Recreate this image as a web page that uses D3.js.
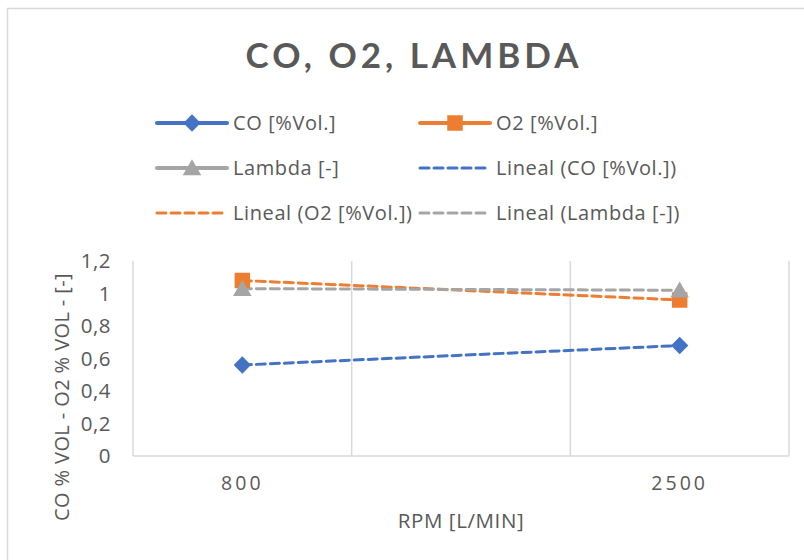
<!DOCTYPE html>
<html>
<head>
<meta charset="utf-8">
<script src="https://cdn.jsdelivr.net/npm/d3@7"></script>
<style>
  html, body { margin: 0; padding: 0; background: #fff; }
  svg { display: block; font-family: "Open Sans", Lato, sans-serif; }
</style>
</head>
<body>
<svg id="chart" width="804" height="560"></svg>
<script>
// Engine speed categories (middle slot left empty, no measurement there)
const categories = ["800", "", "2500"];
const tickLabels = ["800", "", "2500"];
// Measured values per category (null = no reading)
const coValues = [0.56, null, 0.68];
const o2Values = [1.08, null, 0.96];
const lambdaValues = [1.03, null, 1.02];
const yTicks = [0, 0.2, 0.4, 0.6, 0.8, 1.0, 1.2];

const series = [
  { name: "CO [%Vol.]", trend: "Lineal (CO [%Vol.])", values: coValues, color: "#4472C4", marker: "diamond" },
  { name: "O2 [%Vol.]", trend: "Lineal (O2 [%Vol.])", values: o2Values, color: "#ED7D31", marker: "square" },
  { name: "Lambda [-]", trend: "Lineal (Lambda [-])", values: lambdaValues, color: "#A5A5A5", marker: "triangle" }
];

const svg = d3.select("#chart");
const textColor = "#595959";
const gridColor = "#d9d9d9";
const bodyFont = "\"Open Sans\", Lato, sans-serif";

// Chart frame
svg.append("rect")
  .attr("x", 7.5).attr("y", 8.5)
  .attr("width", 820).attr("height", 580)
  .attr("fill", "#fff").attr("stroke", gridColor).attr("stroke-width", 1.5);

const plot = { left: 133, right: 789, top: 261, bottom: 456 };

const x = d3.scaleBand().domain(categories).range([plot.left, plot.right]).padding(0);
const y = d3.scaleLinear().domain([0, 1.2]).range([plot.bottom, plot.top]);

// Title
svg.append("text")
  .attr("x", 414).attr("y", 68)
  .attr("text-anchor", "middle")
  .attr("font-family", "Lato, sans-serif")
  .attr("font-size", 35).attr("font-weight", "bold")
  .attr("letter-spacing", 4)
  .attr("fill", textColor)
  .text("CO, O2, LAMBDA");

// Vertical gridlines at category boundaries
const boundaries = categories.map(c => x(c)).concat([x(categories[categories.length - 1]) + x.bandwidth()]);
svg.append("g").selectAll("line").data(boundaries).join("line")
  .attr("x1", d => d).attr("x2", d => d)
  .attr("y1", plot.top).attr("y2", plot.bottom)
  .attr("stroke", gridColor).attr("stroke-width", 1.5);

// Category axis baseline
svg.append("line")
  .attr("x1", plot.left).attr("x2", plot.right)
  .attr("y1", plot.bottom).attr("y2", plot.bottom)
  .attr("stroke", gridColor).attr("stroke-width", 1.5);

// Y axis labels
const yAxis = d3.axisLeft(y).tickValues(yTicks)
  .tickFormat(d => d3.format(".1~f")(d).replace(".", ","))
  .tickSize(0).tickPadding(0);
const gy = svg.append("g").attr("transform", `translate(111,0)`).call(yAxis);
gy.select(".domain").remove();
gy.selectAll("text").attr("font-size", 20.5).attr("fill", textColor)
  .attr("font-family", bodyFont).attr("letter-spacing", 0.5);

// X axis labels
const xAxis = d3.axisBottom(x).tickFormat((d, i) => tickLabels[i]).tickSize(0).tickPadding(0);
const gx = svg.append("g").attr("transform", `translate(0,476)`).call(xAxis);
gx.select(".domain").remove();
gx.selectAll("text").attr("font-size", 19.5).attr("fill", textColor)
  .attr("letter-spacing", 3).attr("font-family", bodyFont);

// Axis titles
svg.append("text")
  .attr("x", 461).attr("y", 528)
  .attr("text-anchor", "middle").attr("font-size", 20.5).attr("fill", textColor)
  .attr("letter-spacing", 0.6)
  .text("RPM [L/MIN]");
svg.append("text")
  .attr("transform", "translate(69,397) rotate(-90)")
  .attr("text-anchor", "middle").attr("font-size", 20).attr("fill", textColor)
  .attr("letter-spacing", 0.4)
  .text("CO % VOL - O2 % VOL - [-]");

// Linear trend fitted on category index
function linearFit(values) {
  const pts = values.map((v, i) => [i + 1, v]).filter(p => p[1] != null);
  const n = pts.length;
  const mx = d3.mean(pts, p => p[0]), my = d3.mean(pts, p => p[1]);
  const sxy = d3.sum(pts, p => (p[0] - mx) * (p[1] - my));
  const sxx = d3.sum(pts, p => (p[0] - mx) ** 2);
  const slope = sxy / sxx, intercept = my - slope * mx;
  const first = pts[0][0], last = pts[n - 1][0];
  return [first, last].map(i => ({ cat: categories[i - 1], v: intercept + slope * i }));
}

const cx = c => x(c) + x.bandwidth() / 2;

// Trend lines
series.forEach(s => {
  const pts = linearFit(s.values);
  svg.append("path")
    .attr("d", d3.line().x(p => cx(p.cat)).y(p => y(p.v))(pts))
    .attr("fill", "none").attr("stroke", s.color).attr("stroke-width", 3)
    .attr("stroke-dasharray", "9,5").attr("stroke-linecap", "round");
});

// Marker shapes: square-ish diamond, square, triangle
const diamondShape = { draw(ctx, size) { const r = Math.sqrt(size / 2); ctx.moveTo(0, -r); ctx.lineTo(r, 0); ctx.lineTo(0, r); ctx.lineTo(-r, 0); ctx.closePath(); } };
const symbolType = { diamond: diamondShape, square: d3.symbolSquare, triangle: d3.symbolTriangle };
const symbolSize = { diamond: 150, square: 240, triangle: 150 };

function markerPath(kind) {
  return d3.symbol().type(symbolType[kind]).size(symbolSize[kind])();
}

// Data markers
series.forEach(s => {
  svg.append("g").selectAll("path")
    .data(s.values.map((v, i) => ({ cat: categories[i], v })).filter(d => d.v != null))
    .join("path")
    .attr("d", markerPath(s.marker))
    .attr("transform", d => `translate(${cx(d.cat)},${y(d.v) + (s.marker === "triangle" ? 2 : 0)})`)
    .attr("fill", s.color);
});

// Legend
const legendItems = [
  { label: series[0].name, color: series[0].color, marker: "diamond", dashed: false },
  { label: series[1].name, color: series[1].color, marker: "square", dashed: false },
  { label: series[2].name, color: series[2].color, marker: "triangle", dashed: false },
  { label: series[0].trend, color: series[0].color, marker: null, dashed: true },
  { label: series[1].trend, color: series[1].color, marker: null, dashed: true },
  { label: series[2].trend, color: series[2].color, marker: null, dashed: true }
];
const colX = [155, 418];
const rowY = [123, 168, 213];
legendItems.forEach((item, i) => {
  const gx0 = colX[i % 2], gy0 = rowY[Math.floor(i / 2)];
  const g = svg.append("g").attr("transform", `translate(${gx0},${gy0})`);
  g.append("line").attr("x1", 2).attr("x2", 72).attr("y1", 0).attr("y2", 0)
    .attr("stroke", item.color).attr("stroke-width", item.dashed ? 3 : 4)
    .attr("stroke-linecap", "round")
    .attr("stroke-dasharray", item.dashed ? "9,5" : null);
  if (item.marker) {
    g.append("path").attr("d", markerPath(item.marker))
      .attr("transform", `translate(37,${item.marker === "triangle" ? 2 : 0})`)
      .attr("fill", item.color);
  }
  g.append("text").attr("x", 78).attr("y", 0).attr("dy", "0.35em")
    .attr("font-size", 20).attr("letter-spacing", 0.6)
    .attr("fill", textColor).text(item.label);
});
</script>
</body>
</html>
